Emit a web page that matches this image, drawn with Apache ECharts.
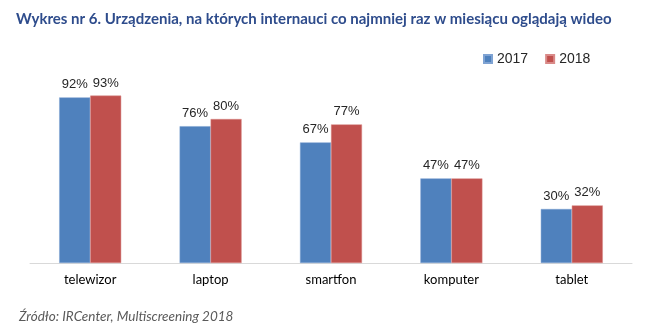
<!DOCTYPE html>
<html><head><meta charset="utf-8">
<script src="https://cdn.jsdelivr.net/npm/echarts@6/dist/echarts.min.js"></script>
<style>html,body{margin:0;padding:0;background:#fff}#c{width:645px;height:326px}</style>
</head><body><div id="c"></div>
<script>
const categories = ['telewizor','laptop','smartfon','komputer','tablet'];
const s2017 = [92,76,67,47,30];
const s2018 = [93,80,77,47,32];
const seriesNames = ['2017','2018'];

const chart = echarts.init(document.getElementById('c'));
const lbl = {show:true,position:'top',formatter:'{c}%',color:'#262626',fontFamily:'Liberation Sans, Arial',fontSize:13,distance:6};
chart.setOption({
  animation:false,
  title:[{text:'Wykres nr 6. Urządzenia, na których internauci co najmniej raz w miesiącu oglądają wideo',left:11,top:7,textStyle:{fontFamily:'Lato',fontWeight:'bold',fontSize:15,color:'#2E4C8C'}},
         {text:'Źródło: IRCenter, Multiscreening 2018',left:14,top:305,textStyle:{fontFamily:'Lato',fontStyle:'italic',fontWeight:'normal',fontSize:13.5,color:'#5A5A5A'}}],
  legend:{data:seriesNames,left:478,top:47,itemWidth:8,itemHeight:8,itemGap:17,icon:'rect',textStyle:{fontFamily:'Liberation Sans, Arial',fontSize:14,color:'#262626'}},
  grid:{left:30,right:13,top:83,bottom:63},
  xAxis:{type:'category',data:categories,axisLine:{lineStyle:{color:'#D9D9D9',width:1}},axisTick:{show:false},axisLabel:{color:'#000',fontFamily:'Lato',fontSize:13,margin:10}},
  yAxis:{type:'value',min:0,max:100,show:false},
  series:[
    {name:seriesNames[0],type:'bar',data:s2017,barWidth:31,barGap:'0%',itemStyle:{color:'#4F81BD',borderColor:'#7FA3D3',borderWidth:0.5},label:lbl},
    {name:seriesNames[1],type:'bar',data:s2018,barWidth:31,itemStyle:{color:'#C0504D',borderColor:'#D98A88',borderWidth:0.5},label:lbl}
  ]
});
</script></body></html>
